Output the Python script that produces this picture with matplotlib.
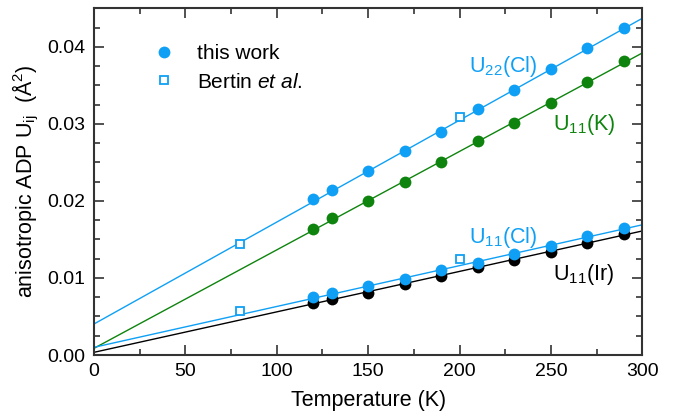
import numpy as np
import matplotlib
matplotlib.use("Agg")
import matplotlib.pyplot as plt
from matplotlib.lines import Line2D
from matplotlib.ticker import MultipleLocator

plt.rcParams['font.family'] = ['Liberation Sans', 'DejaVu Sans']
plt.rcParams['mathtext.fontset'] = 'custom'
plt.rcParams['mathtext.rm'] = 'Liberation Sans'
plt.rcParams['mathtext.it'] = 'Liberation Sans:italic'

########## data ##########
temps = [120, 130, 150, 170, 190, 210, 230, 250, 270, 290]
u22_cl = [0.0203, 0.0214, 0.0239, 0.0265, 0.0290, 0.0319, 0.0344, 0.0371, 0.0398, 0.0424]
u11_k = [0.0163, 0.0178, 0.0200, 0.0225, 0.0250, 0.0278, 0.0301, 0.0327, 0.0355, 0.0381]
u11_cl = [0.0075, 0.0081, 0.0089, 0.0099, 0.0110, 0.0120, 0.0131, 0.0142, 0.0155, 0.0165]
u11_ir = [0.0067, 0.0073, 0.0080, 0.0092, 0.0103, 0.0114, 0.0123, 0.0134, 0.0146, 0.0157]

bertin_temps = [80, 200]
bertin_u22_cl = [0.0144, 0.0309]
bertin_u11_cl = [0.0057, 0.0125]

# linear fits, values at T = 0 and T = 300
fit_temps = [0, 300]
fit_u22_cl = [0.00403, 0.0437]
fit_u11_k = [0.00087, 0.0392]
fit_u11_cl = [0.0010, 0.0169]
fit_u11_ir = [0.00035, 0.0161]

blue = '#0FA0F5'
green = '#0E840E'
black = '#000000'

########## figure ##########
fig = plt.figure(figsize=(6.73, 4.16), dpi=100)
ax = fig.add_axes([0.1397, 0.1466, 0.8146, 0.8334])

ax.plot(fit_temps, fit_u22_cl, color=blue, lw=1)
ax.plot(fit_temps, fit_u11_k, color=green, lw=1)
ax.plot(fit_temps, fit_u11_ir, color=black, lw=1)
ax.plot(fit_temps, fit_u11_cl, color=blue, lw=1)

ax.plot(temps, u22_cl, 'o', color=blue, ms=8.5, mew=0)
ax.plot(temps, u11_k, 'o', color=green, ms=8.5, mew=0)
ax.plot(temps, u11_ir, 'o', color=black, ms=8.5, mew=0)
ax.plot(temps, u11_cl, 'o', color=blue, ms=8.5, mew=0)

ax.plot(bertin_temps, bertin_u22_cl, 's', mfc='white', mec=blue, ms=6, mew=1.3)
ax.plot(bertin_temps, bertin_u11_cl, 's', mfc='white', mec=blue, ms=6, mew=1.3)

# curve labels
lab = dict(fontsize=15.5)
ax.text(205, 0.0367, r'U$_{\mathrm{22}}$(Cl)', color=blue, **lab)
ax.text(251, 0.0292, r'U$_{\mathrm{11}}$(K)', color=green, **lab)
ax.text(205, 0.01455, r'U$_{\mathrm{11}}$(Cl)', color=blue, **lab)
ax.text(251, 0.0097, r'U$_{\mathrm{11}}$(Ir)', color=black, **lab)

# legend
handles = [
    Line2D([], [], ls='none', marker='o', color=blue, ms=8.5, mew=0),
    Line2D([], [], ls='none', marker='s', mfc='white', mec=blue, ms=6, mew=1.3),
]
ax.legend(handles, ['this work', r'Bertin $\mathit{et\ al.}$'],
          loc='upper left', bbox_to_anchor=(0.074, 0.95), frameon=False,
          fontsize=15, handletextpad=1.1, labelspacing=0.45, handlelength=1.0)

########## axes ##########
ax.set_xlim(0, 300)
ax.set_ylim(0, 0.045)
ax.xaxis.set_major_locator(MultipleLocator(50))
ax.xaxis.set_minor_locator(MultipleLocator(25))
ax.yaxis.set_major_locator(MultipleLocator(0.01))
ax.yaxis.set_minor_locator(MultipleLocator(0.0025))
ax.yaxis.set_major_formatter(plt.FormatStrFormatter('%.2f'))

ax.tick_params(which='both', direction='in', top=True, right=True, labelsize=14,
               color='#333333', width=1.2)
ax.tick_params(which='major', length=7, pad=6)
ax.tick_params(which='minor', length=4)
for s in ax.spines.values():
    s.set_color('#333333')
    s.set_linewidth(1.5)

ax.set_xlabel('Temperature (K)', fontsize=15.5, labelpad=7)
ax.set_ylabel(r'anisotropic ADP U$_{\mathrm{ij}}$  (Å$^2$)', fontsize=15.5, labelpad=5)

fig.savefig('out.png', dpi=100)
